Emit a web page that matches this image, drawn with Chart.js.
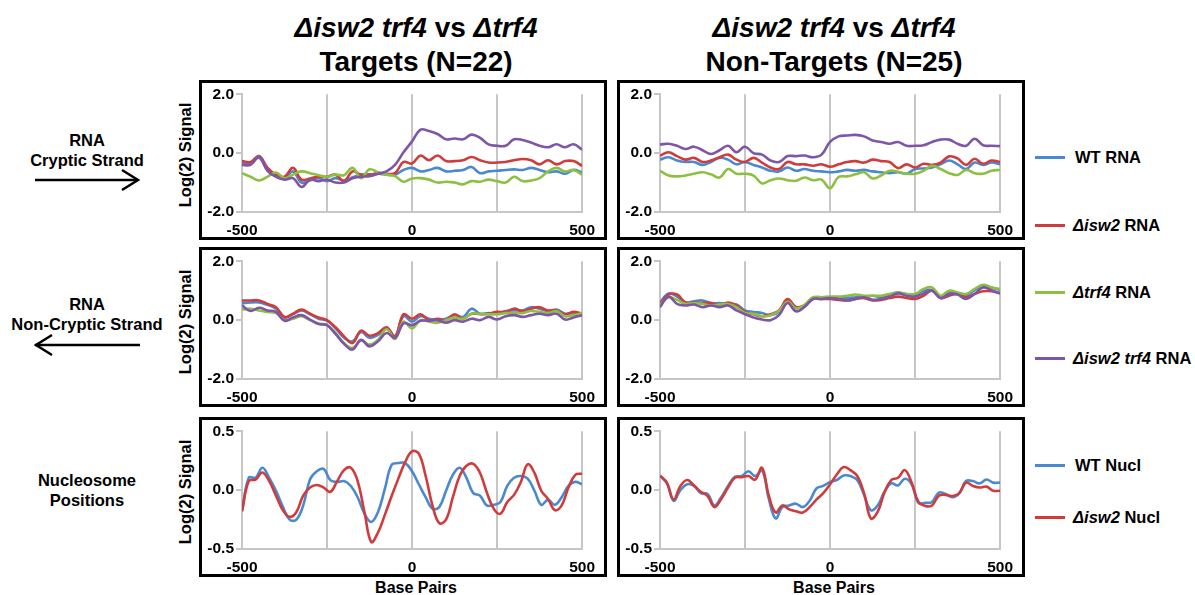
<!DOCTYPE html>
<html>
<head>
<meta charset="utf-8">
<script src="https://cdn.jsdelivr.net/npm/chart.js@4.4.1/dist/chart.umd.min.js"></script>
<style>
  body { margin: 0; background: #fff; font-family: "Liberation Sans", Arial, sans-serif; font-weight: bold; color: #000; }
  #page { position: relative; width: 1195px; height: 595px; overflow: hidden; }
  .abs { position: absolute; }
  .box { position: absolute; border: 3px solid #000; box-sizing: border-box; width: 408px; height: 160px; }
  .box canvas { display: block; }
  .title { width: 420px; text-align: center; font-size: 28px; line-height: 34px; }
  .lab { width: 170px; text-align: center; font-size: 16.5px; line-height: 20px; }
  .ylab { width: 160px; height: 20px; line-height: 20px; text-align: center; font-size: 16.5px; transform: rotate(-90deg); }
  .xlab { width: 200px; text-align: center; font-size: 16px; line-height: 20px; }
  .leg { font-size: 16.5px; line-height: 20px; white-space: nowrap; }
  .swatch { position: absolute; width: 30px; height: 3px; }
</style>
</head>
<body>
<div id="page">
  <div class="abs title" style="left:206px; top:11px;"><i>Δisw2 trf4</i> vs <i>Δtrf4</i><br>Targets (N=22)</div>
  <div class="abs title" style="left:624px; top:11px;"><i>Δisw2 trf4</i> vs <i>Δtrf4</i><br>Non-Targets (N=25)</div>

  <div class="abs lab" style="left:2px; top:130px;">RNA<br>Cryptic Strand</div>
  <div class="abs lab" style="left:2px; top:294px;">RNA<br>Non-Cryptic Strand</div>
  <div class="abs lab" style="left:2px; top:470px;">Nucleosome<br>Positions</div>
  <svg class="abs" style="left:0; top:0;" width="200" height="400">
    <g stroke="#000" stroke-width="2.5" fill="none">
      <line x1="35" y1="180" x2="138" y2="180"/>
      <polyline points="122,170 138,180 122,190"/>
      <line x1="35" y1="345" x2="140" y2="345"/>
      <polyline points="52,335 36,345 52,355"/>
    </g>
  </svg>

  <div class="abs ylab" style="left:105px; top:145px;">Log(2) Signal</div>
  <div class="abs ylab" style="left:105px; top:312px;">Log(2) Signal</div>
  <div class="abs ylab" style="left:105px; top:482px;">Log(2) Signal</div>

  <div class="box" style="left:199px; top:80px;"><canvas id="c1" width="402" height="154"></canvas></div>
  <div class="box" style="left:617px; top:80px;"><canvas id="c2" width="402" height="154"></canvas></div>
  <div class="box" style="left:199px; top:247px;"><canvas id="c3" width="402" height="154"></canvas></div>
  <div class="box" style="left:617px; top:247px;"><canvas id="c4" width="402" height="154"></canvas></div>
  <div class="box" style="left:199px; top:417px;"><canvas id="c5" width="402" height="154"></canvas></div>
  <div class="box" style="left:617px; top:417px;"><canvas id="c6" width="402" height="154"></canvas></div>

  <div class="abs xlab" style="left:316px; top:578px;">Base Pairs</div>
  <div class="abs xlab" style="left:734px; top:578px;">Base Pairs</div>

  <div class="swatch" style="left:1035px; top:156px; background:#4a89cf;"></div>
  <div class="abs leg" style="left:1075px; top:147px;">WT RNA</div>
  <div class="swatch" style="left:1035px; top:224px; background:#d03c3c;"></div>
  <div class="abs leg" style="left:1073px; top:215px;"><i>Δisw2</i> RNA</div>
  <div class="swatch" style="left:1035px; top:291px; background:#8dc040;"></div>
  <div class="abs leg" style="left:1073px; top:282px;"><i>Δtrf4</i> RNA</div>
  <div class="swatch" style="left:1035px; top:357px; background:#7e56a8;"></div>
  <div class="abs leg" style="left:1073px; top:348px;"><i>Δisw2 trf4</i> RNA</div>
  <div class="swatch" style="left:1035px; top:464px; background:#4a89cf;"></div>
  <div class="abs leg" style="left:1075px; top:455px;">WT Nucl</div>
  <div class="swatch" style="left:1035px; top:516px; background:#d03c3c;"></div>
  <div class="abs leg" style="left:1073px; top:507px;"><i>Δisw2</i> Nucl</div>
</div>

<script>
// base pair positions
const bp25 = [-500,-475,-450,-425,-400,-375,-350,-325,-300,-275,-250,-225,-200,-175,-150,-125,-100,-75,-50,-25,
  0,25,50,75,100,125,150,175,200,225,250,275,300,325,350,375,400,425,450,475,500];
const bp20 = [-500,-480,-460,-440,-420,-400,-380,-360,-340,-320,-300,-280,-260,-240,-220,-200,-180,-160,-140,-120,
  -100,-80,-60,-40,-20,0,20,40,60,80,100,120,140,160,180,200,220,240,260,280,300,320,340,360,380,400,420,440,460,480,500];

// Targets, cryptic strand RNA
const tgtCrypWT = [-0.35,-0.35,-0.16,-0.57,-0.8,-0.85,-0.62,-1.0,-0.93,-0.85,-0.95,-0.85,-0.93,-0.82,-0.73,-0.73,-0.7,-0.73,-0.73,-0.57,
  -0.5,-0.62,-0.57,-0.5,-0.62,-0.6,-0.57,-0.47,-0.68,-0.62,-0.6,-0.57,-0.55,-0.57,-0.5,-0.57,-0.65,-0.62,-0.7,-0.57,-0.65];
const tgtCrypIsw2 = [-0.27,-0.3,-0.1,-0.5,-0.73,-0.8,-0.5,-0.9,-0.86,-0.8,-0.8,-0.73,-0.95,-0.62,-0.73,-0.73,-0.68,-0.7,-0.68,-0.3,
  -0.35,-0.08,-0.24,-0.08,-0.27,-0.27,-0.24,-0.13,-0.24,-0.32,-0.32,-0.3,-0.24,-0.2,-0.24,-0.38,-0.24,-0.38,-0.27,-0.27,-0.43];
const tgtCrypTrf4 = [-0.68,-0.8,-0.93,-0.8,-0.66,-0.85,-0.73,-0.62,-0.68,-0.75,-0.8,-0.73,-0.75,-0.5,-0.85,-0.55,-0.65,-0.73,-0.78,-0.97,
  -0.86,-0.85,-0.9,-1.0,-0.97,-1.0,-1.06,-0.95,-0.97,-0.9,-0.95,-1.0,-0.8,-0.95,-0.93,-0.85,-0.62,-0.5,-0.62,-0.57,-0.73];
const tgtCrypDbl = [-0.4,-0.4,-0.13,-0.6,-0.8,-0.9,-0.85,-1.15,-0.9,-0.95,-0.9,-1.0,-1.0,-0.85,-0.8,-0.78,-0.7,-0.62,-0.4,0.03,
  0.4,0.8,0.75,0.65,0.47,0.5,0.47,0.63,0.52,0.3,0.25,0.25,0.47,0.45,0.36,0.25,0.2,0.3,0.2,0.3,0.12];

// Non-targets, cryptic strand RNA
const ntCrypWT = [-0.22,-0.14,-0.25,-0.3,-0.3,-0.4,-0.3,-0.16,-0.22,-0.38,-0.3,-0.4,-0.49,-0.6,-0.62,-0.49,-0.6,-0.54,-0.6,-0.62,
  -0.65,-0.62,-0.57,-0.6,-0.57,-0.62,-0.65,-0.68,-0.65,-0.7,-0.54,-0.52,-0.49,-0.38,-0.25,-0.38,-0.54,-0.32,-0.4,-0.32,-0.38];
const ntCrypIsw2 = [-0.09,0.03,-0.1,-0.22,-0.16,-0.3,-0.25,-0.14,-0.05,-0.22,-0.3,-0.16,-0.32,-0.49,-0.54,-0.3,-0.38,-0.38,-0.43,-0.38,
  -0.46,-0.38,-0.3,-0.27,-0.32,-0.22,-0.27,-0.3,-0.51,-0.38,-0.49,-0.36,-0.4,-0.32,-0.11,-0.18,-0.4,-0.19,-0.36,-0.25,-0.3];
const ntCrypTrf4 = [-0.6,-0.76,-0.79,-0.76,-0.7,-0.65,-0.72,-0.83,-0.54,-0.7,-0.7,-0.76,-1.03,-0.92,-0.86,-0.92,-0.94,-0.83,-0.92,-0.9,
  -1.19,-0.81,-0.79,-0.72,-0.65,-0.86,-0.76,-0.6,-0.63,-0.7,-0.7,-0.6,-0.43,-0.54,-0.68,-0.74,-0.57,-0.68,-0.7,-0.6,-0.57];
const ntCrypDbl = [0.29,0.32,0.25,0.14,0.22,0.1,-0.03,0.1,0.25,0.03,0.22,0,-0.05,-0.25,-0.3,-0.1,-0.1,-0.08,-0.14,-0.05,
  0.38,0.57,0.6,0.62,0.57,0.43,0.38,0.32,0.38,0.25,0.25,0.27,0.38,0.46,0.46,0.32,0.25,0.49,0.27,0.25,0.24];

// Targets, non-cryptic strand RNA
const tgtNonWT = [0.58,0.6,0.6,0.52,0.39,0.09,0.2,0.33,0.2,0.05,-0.02,-0.28,-0.6,-0.72,-0.4,-0.6,-0.5,-0.28,-0.55,0.13,
  -0.05,0.13,0.05,0,0.05,0.17,0.11,0.39,0.22,0.24,0.22,0.31,0.33,0.33,0.44,0.39,0.31,0.36,0.22,0.24,0.2];
const tgtNonIsw2 = [0.67,0.67,0.67,0.55,0.44,0.11,0.22,0.36,0.22,0.09,0,-0.24,-0.55,-0.78,-0.36,-0.53,-0.44,-0.24,-0.55,0.2,
  0.05,0.2,0,0.05,0,0.2,0.05,0.22,0.2,0.22,0.28,0.28,0.39,0.31,0.39,0.44,0.33,0.33,0.2,0.28,0.22];
const tgtNonTrf4 = [0.36,0.39,0.33,0.28,0.24,0,0.05,0.13,0,-0.11,-0.17,-0.44,-0.78,-0.94,-0.69,-0.83,-0.67,-0.31,-0.64,-0.05,
  -0.28,0,-0.05,-0.09,0,0.09,0.05,0.22,0.22,0.2,0.2,0.24,0.24,0.24,0.31,0.28,0.24,0.31,0.13,0.17,0.24];
const tgtNonDbl = [0.5,0.31,0.42,0.33,0.28,-0.02,0.09,0.17,0.02,-0.13,-0.17,-0.47,-0.8,-1.0,-0.67,-0.89,-0.72,-0.44,-0.6,-0.11,
  -0.17,-0.02,-0.02,0,-0.09,0,-0.05,0.05,0,0.11,0.02,0.13,0.17,0.11,0.17,0.22,0.17,0.22,0.02,0.09,0.17];

// Non-targets, non-cryptic strand RNA
const ntNonWT = [0.6,0.91,0.8,0.6,0.64,0.67,0.58,0.58,0.55,0.53,0.33,0.28,0.24,0.17,0.28,0.65,0.42,0.5,0.75,0.72,
  0.75,0.75,0.75,0.78,0.78,0.83,0.78,0.87,0.94,0.89,0.87,1.0,1.02,0.8,0.94,0.89,0.83,1.02,1.17,1.11,1.02];
const ntNonIsw2 = [0.55,0.87,0.87,0.6,0.6,0.58,0.58,0.5,0.6,0.5,0.28,0.2,0.13,0.2,0.33,0.72,0.45,0.5,0.72,0.72,
  0.72,0.69,0.67,0.72,0.75,0.67,0.69,0.75,0.8,0.75,0.72,0.83,1.0,0.75,0.83,0.89,0.78,0.89,0.98,0.98,0.91];
const ntNonTrf4 = [0.5,0.78,0.69,0.55,0.58,0.55,0.5,0.53,0.55,0.44,0.24,0.22,0.13,0.17,0.31,0.62,0.4,0.52,0.78,0.78,
  0.8,0.8,0.83,0.87,0.83,0.83,0.83,0.89,0.94,0.89,0.89,1.06,1.11,0.83,1.0,0.94,0.89,1.06,1.2,1.11,1.06];
const ntNonDbl = [0.44,0.8,0.55,0.5,0.53,0.44,0.5,0.44,0.5,0.33,0.2,0.09,0.02,0,0.17,0.58,0.3,0.45,0.72,0.72,
  0.75,0.72,0.67,0.72,0.78,0.69,0.72,0.8,0.91,0.83,0.8,0.91,1.0,0.75,0.89,0.87,0.72,0.89,1.11,1.02,0.91];

// Nucleosome positions
const tgtNuclWT = [-0.18,0.105,0.105,0.19,0.105,-0.005,-0.14,-0.25,-0.25,-0.13,
  0.09,0.16,0.18,0.085,0.07,0.077,0.035,-0.06,-0.2,-0.27,
  -0.185,0.01,0.215,0.23,0.23,0.16,0.05,-0.06,-0.157,-0.144,
  -0.005,0.13,0.19,0.105,-0.025,-0.047,-0.13,-0.125,-0.1,0.036,
  0.105,0.12,0.097,-0.005,-0.125,-0.083,-0.125,-0.06,0.036,0.07,0.05];
const tgtNuclIsw2 = [-0.18,0.077,0.09,0.15,0.077,-0.047,-0.17,-0.227,-0.185,-0.047,
  0.022,0.044,0.022,-0.014,0.077,0.17,0.19,0.077,-0.185,-0.44,
  -0.36,-0.21,-0.05,0.1,0.24,0.33,0.31,0.12,-0.13,-0.28,
  -0.25,-0.06,0.12,0.207,0.224,0.146,-0.02,-0.157,-0.2,-0.1,
  -0.04,0.07,0.22,0.146,-0.005,-0.075,-0.17,-0.13,0.022,0.13,0.14];
const ntNuclWT = [0.12,0.06,-0.09,0,0.05,0.036,-0.025,-0.033,-0.13,-0.06,
  0.036,0.113,0.12,0.16,0.12,0.17,-0.075,-0.24,-0.144,-0.13,
  -0.115,-0.144,-0.09,0.014,0.036,0.07,0.086,0.124,0.12,0.086,
  -0.04,-0.17,-0.13,-0.014,0.058,0.04,0.097,0.05,-0.108,-0.108,
  -0.1,-0.02,-0.033,-0.06,-0.025,0.077,0.077,0.058,0.09,0.064,0.064];
const ntNuclIsw2 = [0.124,0.064,-0.08,0.036,0.086,0.04,-0.014,-0.05,-0.144,-0.075,
  0.022,0.105,0.11,0.12,0.09,0.19,-0.047,-0.19,-0.13,-0.163,
  -0.18,-0.19,-0.144,-0.08,-0.025,0.05,0.133,0.196,0.17,0.12,
  -0.025,-0.24,-0.185,-0.02,0.086,0.105,0.17,0.064,-0.1,-0.135,
  -0.13,-0.047,-0.04,-0.05,-0.025,0.064,0.036,0.022,0.03,-0.005,-0.005];

const colors = { wt: "#4a89cf", isw2: "#d03c3c", trf4: "#8dc040", dbl: "#7e56a8" };
const gray = "#c6c6c6";

Chart.defaults.font.family = "'Liberation Sans', Arial, sans-serif";

const pts = (xs, ys) => xs.map((x, i) => ({ x: x, y: ys[i] }));

const makeGraph = (id, xs, series, lim) => {
  const datasets = series.map((s, i) => ({
    data: pts(xs, s.values),
    borderColor: s.color,
    borderWidth: 2.6,
    pointRadius: 0,
    tension: 0.4,
    fill: false,
    order: series.length - i,
  }));
  return new Chart(document.getElementById(id), {
    type: "line",
    data: { datasets },
    options: {
      responsive: false,
      animation: false,
      layout: { padding: { top: 9, right: 12, left: 0, bottom: 0 } },
      plugins: { legend: { display: false }, tooltip: { enabled: false } },
      scales: {
        x: {
          type: "linear",
          min: -500,
          max: 500,
          afterFit: (s) => { s.height = 25; },
          ticks: {
            stepSize: 250,
            autoSkip: false,
            maxRotation: 0,
            padding: 9,
            color: "#000",
            font: { size: 15.5, weight: "bold" },
            callback: (v) => (v % 500 === 0 ? String(v) : ""),
          },
          grid: { color: gray, lineWidth: 2, drawTicks: false },
          border: { display: true, color: gray, width: 2 },
        },
        y: {
          min: -lim,
          max: lim,
          afterFit: (s) => { s.width = 40; },
          ticks: {
            stepSize: lim,
            padding: 2,
            color: "#000",
            font: { size: 15.5, weight: "bold" },
            callback: (v) => Number(v).toFixed(1),
          },
          grid: { drawOnChartArea: false, drawTicks: true, tickLength: 6, tickColor: gray, lineWidth: 2 },
          border: { display: true, color: gray, width: 2 },
        },
      },
    },
  });
};

const rna = (wt, isw2, trf4, dbl) => [
  { values: wt, color: colors.wt },
  { values: isw2, color: colors.isw2 },
  { values: trf4, color: colors.trf4 },
  { values: dbl, color: colors.dbl },
];
const nucl = (wt, isw2) => [
  { values: wt, color: colors.wt },
  { values: isw2, color: colors.isw2 },
];

makeGraph("c1", bp25, rna(tgtCrypWT, tgtCrypIsw2, tgtCrypTrf4, tgtCrypDbl), 2);
makeGraph("c2", bp25, rna(ntCrypWT, ntCrypIsw2, ntCrypTrf4, ntCrypDbl), 2);
makeGraph("c3", bp25, rna(tgtNonWT, tgtNonIsw2, tgtNonTrf4, tgtNonDbl), 2);
makeGraph("c4", bp25, rna(ntNonWT, ntNonIsw2, ntNonTrf4, ntNonDbl), 2);
makeGraph("c5", bp20, nucl(tgtNuclWT, tgtNuclIsw2), 0.5);
makeGraph("c6", bp20, nucl(ntNuclWT, ntNuclIsw2), 0.5);
</script>
</body>
</html>
